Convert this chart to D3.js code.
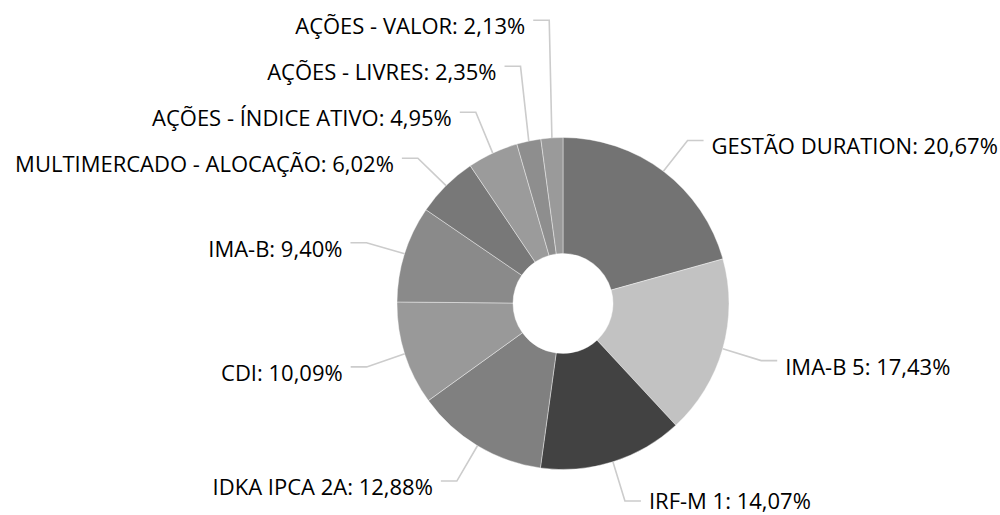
<!DOCTYPE html>
<html>
<head>
<meta charset="utf-8">
<script src="https://cdn.jsdelivr.net/npm/d3@7"></script>
<style>
  html, body { margin: 0; padding: 0; background: #fff; }
  .label { font-family: "Open Sans", sans-serif; font-size: 22px; fill: #000; }
</style>
</head>
<body>
<div id="chart"></div>
<script>
(function () {

  // Data
  const categories = ["GESTÃO DURATION", "IMA-B 5", "IRF-M 1", "IDKA IPCA 2A", "CDI", "IMA-B",
    "MULTIMERCADO - ALOCAÇÃO", "AÇÕES - ÍNDICE ATIVO", "AÇÕES - LIVRES", "AÇÕES - VALOR"]
  const shares = [20.67, 17.43, 14.07, 12.88, 10.09, 9.40, 6.02, 4.95, 2.35, 2.13]
  const sliceColors = ["#737373", "#c2c2c2", "#424242", "#808080", "#999999", "#8a8a8a",
    "#787878", "#9b9b9b", "#8e8e8e", "#9a9a9a"]

  const width = 1000
  const height = 515
  const cx = 563
  const cy = 303.5
  const outerR = 166
  const innerR = 50
  const labelR = 206
  const spacing = 46

  const svg = d3.select("#chart").append("svg")
    .attr("width", width)
    .attr("height", height)

  const g = svg.append("g")
    .attr("transform", "translate(" + cx + "," + cy + ")")

  const pie = d3.pie().sort(null).value(d => d.value)
  const arc = d3.arc().innerRadius(innerR).outerRadius(outerR)

  const data = categories.map((c, i) => ({ name: c, value: shares[i], color: sliceColors[i] }))
  const arcs = pie(data)

  // Slices
  g.selectAll("path.slice")
    .data(arcs)
    .join("path")
    .attr("class", "slice")
    .attr("d", arc)
    .attr("fill", d => d.data.color)
    .attr("stroke", "#ffffff")
    .attr("stroke-opacity", 0.4)
    .attr("stroke-width", 1)

  // Label layout
  const labels = arcs.map(d => {
    const a = (d.startAngle + d.endAngle) / 2
    const left = Math.sin(a) < 0
    return {
      d: d,
      a: a,
      left: left,
      y: 1 - labelR * Math.cos(a),
      bendX: labelR * Math.sin(a)
    }
  })

  // push overlapping labels upward, per side
  ;[true, false].forEach(side => {
    const list = labels.filter(l => l.left === side).sort((p, q) => q.y - p.y)
    for (let i = 1; i < list.length; i++) {
      if (list[i].y > list[i - 1].y - spacing) list[i].y = list[i - 1].y - spacing
    }
  })

  // keep texts inside the bottom edge
  const maxTextY = height - 15 - cy

  const fmt = v => v.toFixed(2).replace(".", ",") + "%"

  // Connectors
  g.selectAll("path.connector")
    .data(labels)
    .join("path")
    .attr("class", "connector")
    .attr("fill", "none")
    .attr("stroke", "#cccccc")
    .attr("stroke-width", 1.6)
    .attr("d", l => {
      const sx = outerR * Math.sin(l.a)
      const sy = -outerR * Math.cos(l.a)
      const ex = l.bendX + (l.left ? -16 : 16)
      return "M" + sx + "," + sy + "L" + l.bendX + "," + l.y + "L" + ex + "," + l.y
    })

  // Texts
  g.selectAll("text.label")
    .data(labels)
    .join("text")
    .attr("class", "label")
    .attr("x", l => l.bendX + (l.left ? -24 : 24))
    .attr("y", l => Math.min(l.y + 5, maxTextY))
    .attr("dominant-baseline", "central")
    .attr("text-anchor", l => l.left ? "end" : "start")
    .text(l => l.d.data.name + ": " + fmt(l.d.data.value))

})();
</script>
</body>
</html>
